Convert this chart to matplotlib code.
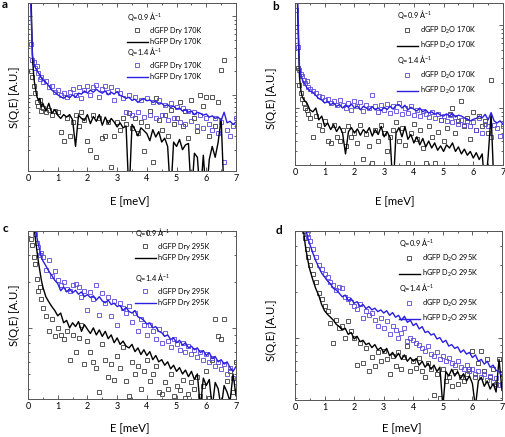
import numpy as np
import matplotlib
matplotlib.use("Agg")
import matplotlib.pyplot as plt
from matplotlib.lines import Line2D
from matplotlib.ticker import LogLocator, NullFormatter, MultipleLocator

plt.rcParams['font.family'] = ['Lato', 'DejaVu Sans']
plt.rcParams['mathtext.fontset'] = 'custom'
plt.rcParams['mathtext.rm'] = 'Lato'
plt.rcParams['mathtext.it'] = 'Lato:italic'

nan = np.nan

# energy transfer grid (meV)
E = [0.05, 0.1, 0.15, 0.2, 0.25, 0.3, 0.35, 0.4, 0.45, 0.5,
     0.6, 0.7, 0.8, 0.9, 1.0, 1.1, 1.2, 1.3, 1.4, 1.5,
     1.6, 1.7, 1.8, 1.9, 2.0, 2.1, 2.2, 2.3, 2.4, 2.5,
     2.6, 2.7, 2.8, 2.9, 3.0, 3.1, 3.2, 3.3, 3.4, 3.5,
     3.6, 3.7, 3.8, 3.9, 4.0, 4.1, 4.2, 4.3, 4.4, 4.5,
     4.6, 4.7, 4.8, 4.9, 5.0, 5.1, 5.2, 5.3, 5.4, 5.5,
     5.6, 5.7, 5.8, 5.9, 6.0, 6.1, 6.2, 6.3, 6.4, 6.5,
     6.6, 6.7, 6.8, 6.9, 7.0]

# ---------------- panel a : Dry 170K ----------------
a_hgfp_q14 = [60, 12, 3.2, 2.5, 2.2, 2.05, 1.9, 1.8, 1.65, 1.55,
              1.45, 1.3, 1.15, 1.08, 1.0, 0.95, 0.9, 0.97, 0.92, 1.0,
              0.93, 1.05, 1.02, 1.12, 1.05, 1.15, 1.08, 1.18, 1.1, 1.05,
              1.12, 1.0, 1.08, 1.02, 1.1, 0.98, 0.95, 0.9, 0.93, 0.85,
              0.88, 0.8, 0.86, 0.9, 0.84, 0.86, 0.8, 0.83, 0.76, 0.78,
              0.72, 0.75, 0.69, 0.72, 0.66, 0.68, 0.62, 0.65, 0.6, 0.62,
              0.56, 0.6, 0.58, 0.55, 0.57, 0.52, 0.54, 0.5, 0.52, 0.47,
              0.6, 0.44, 0.46, 0.42, 0.45]
a_hgfp_q09 = [60, 20, 3.0, 1.6, 1.2, 0.95, 0.85, 0.9, 0.7, 0.78,
              0.62, 0.78, 0.58, 0.65, 0.55, 0.5, 0.56, 0.52, 0.56, 0.48,
              0.22, 0.55, 0.5, 0.47, 0.56, 0.43, 0.53, 0.46, 0.56, 0.41,
              0.52, 0.43, 0.5, 0.45, 0.39, 0.44, 0.38, 0.4, 0.05, 0.42,
              0.36, 0.3, 0.38, 0.35, 0.32, 0.26, 0.36, 0.29, 0.34, 0.25,
              0.28, 0.22, 0.05, 0.25, 0.22, 0.27, 0.2, 0.23, 0.24, 0.05,
              0.18, 0.16, 0.05, 0.17, 0.05, 0.15, 0.22, 0.16, 0.25, 0.5,
              0.05, nan, nan, nan, nan]
a_dgfp_q09 = [nan, 2.0, 1.7, 1.3, 1.05, 0.8, 0.72, 0.86, 0.62, 0.68,
              0.6, 0.64, 0.55, 0.62, 0.6, 0.34, 0.26, 0.5, 0.3, 0.45,
              0.55, 0.4, 0.6, 0.48, 0.26, 0.2, 0.55, 0.16, 0.5, 0.28,
              0.3, 0.45, 0.12, 0.3, 0.45, 0.36, 0.5, 0.42, 0.58, 0.38,
              0.5, 0.33, 0.45, 0.19, 0.4, 0.62, 0.14, 0.9, 0.48, 0.36,
              0.55, 0.3, 0.65, 0.42, 0.5, 0.8, 0.4, 0.62, 0.28, 0.85,
              0.5, 0.35, 1.0, 0.72, 0.95, 0.3, 0.95, 0.4, 0.82, 2.1,
              2.8, nan, nan, nan, nan]
a_dgfp_q14 = [nan, 4.5, 2.8, 2.6, 2.2, 2.3, 1.9, 1.6, 1.7, 1.45,
              1.5, 1.25, 1.3, 1.1, 1.15, 1.0, 1.05, 0.95, 1.1, 1.2,
              1.0, 1.25, 0.9, 1.15, 1.3, 1.0, 1.25, 1.35, 0.95, 1.2,
              1.3, 1.1, 1.25, 0.85, 1.15, 1.05, 0.9, 0.6, 1.0, 0.55,
              0.95, 0.6, 0.85, 0.52, 0.9, 0.55, 0.8, 0.5, 0.85, 0.55,
              0.75, 0.48, 0.78, 0.5, 0.7, 0.45, 0.68, 0.42, 0.62, 0.46,
              0.6, 0.4, 0.55, 0.38, 0.5, 0.42, 0.36, 0.5, 0.33, 0.45,
              0.14, 0.36, 0.3, 0.4, 0.5]

# ---------------- panel b : D2O 170K ----------------
b_hgfp_q14 = [60, 14, 3.2, 2.5, 2.2, 2.0, 1.9, 1.75, 1.7, 1.6,
              1.55, 1.42, 1.3, 1.25, 1.15, 1.2, 1.1, 1.15, 1.05, 1.1,
              1.0, 1.08, 1.02, 1.12, 1.0, 1.06, 0.95, 1.05, 1.0, 0.96,
              1.04, 0.95, 1.0, 0.93, 1.02, 0.96, 1.05, 0.97, 1.08, 1.1,
              1.0, 1.08, 0.95, 1.02, 0.97, 0.92, 1.0, 0.9, 0.95, 0.87,
              0.9, 0.84, 0.87, 0.82, 0.8, 0.85, 0.8, 0.86, 0.78, 0.82,
              0.8, 0.76, 0.74, 0.7, 0.73, 0.75, 0.8, 0.76, 0.84, 0.72,
              0.88, 0.7, 0.66, 0.7, 0.64]
b_hgfp_q09 = [60, 10, 2.4, 1.6, 1.35, 1.25, 1.2, 1.15, 1.05, 0.95,
              0.9, 1.0, 0.72, 0.8, 0.6, 0.66, 0.55, 0.63, 0.52, 0.6,
              0.5, 0.28, 0.52, 0.58, 0.5, 0.56, 0.47, 0.55, 0.5, 0.58,
              0.46, 0.55, 0.48, 0.6, 0.45, 0.52, 0.44, 0.1, 0.5, 0.58,
              0.45, 0.6, 0.42, 0.48, 0.38, 0.45, 0.36, 0.43, 0.34, 0.4,
              0.33, 0.38, 0.31, 0.35, 0.3, 0.36, 0.33, 0.38, 0.3, 0.34,
              0.28, 0.32, 0.27, 0.3, 0.25, 0.29, 0.24, 0.28, 0.1, 0.26,
              0.85, 0.1, nan, nan, nan]
b_dgfp_q09 = [nan, 3.0, 1.9, 1.5, 1.3, 1.15, 1.0, 0.95, 0.85, 0.75,
              0.45, 0.8, 0.62, 0.55, 0.7, 0.4, 0.38, 0.62, 0.45, 0.4,
              0.55, 0.35, 0.6, 0.45, 0.5, 0.38, 0.62, 0.24, 0.48, 0.35,
              0.22, 0.55, 0.4, 0.62, 0.5, 0.3, 0.45, 0.55, 0.68, 0.4,
              0.58, 0.36, 0.22, 0.5, 0.65, 0.42, 0.55, 0.33, 0.22, 0.6,
              0.45, 0.22, 0.52, 0.72, 0.4, 0.58, 0.85, 1.0, 0.5, 0.7,
              1.2, 0.6, 0.75, 0.42, 0.9, 0.55, 0.8, 0.6, 0.7, 0.5,
              2.2, nan, nan, nan, nan]
b_dgfp_q14 = [15, 5.5, 2.9, 2.6, 2.4, 2.2, 2.0, 2.1, 1.8, 1.7,
              1.6, 1.5, 1.4, 1.35, 1.25, 1.3, 1.15, 1.2, 1.08, 1.25,
              1.1, 1.0, 1.15, 0.95, 1.2, 1.05, 1.18, 0.92, 1.1, 1.0,
              1.45, 1.05, 0.9, 1.08, 0.95, 1.12, 0.88, 1.05, 0.92, 1.15,
              0.85, 1.0, 0.88, 1.05, 0.82, 0.95, 0.8, 0.92, 0.85, 0.78,
              0.9, 0.75, 0.85, 0.72, 0.8, 0.7, 0.82, 0.68, 0.78, 0.65,
              0.72, 0.62, 0.7, 0.6, 0.68, 0.55, 0.75, 0.5, 0.65, 0.6,
              0.45, 0.62, 0.58, 0.46, 0.6]

# ---------------- panel c : Dry 295K ----------------
c_hgfp_q14 = [30, 20, 12, 7, 4.5, 3.9, 3.5, 3.2, 2.9, 2.75,
              2.55, 2.35, 2.2, 2.05, 1.95, 1.75, 1.85, 1.72, 1.8, 1.7,
              1.76, 1.66, 1.72, 1.6, 1.65, 1.58, 1.62, 1.52, 1.6, 1.5,
              1.46, 1.52, 1.42, 1.45, 1.38, 1.4, 1.3, 1.36, 1.28, 1.25,
              1.3, 1.18, 1.16, 1.12, 1.06, 1.08, 1.0, 1.02, 0.95, 0.93,
              0.88, 0.9, 0.84, 0.86, 0.8, 0.83, 0.77, 0.8, 0.74, 0.76,
              0.72, 0.74, 0.69, 0.71, 0.66, 0.69, 0.63, 0.65, 0.6, 0.62,
              0.58, 0.6, 0.55, 0.52, 0.56]
c_hgfp_q09 = [30, 15, 8, 4.6, 3.8, 3.2, 2.7, 2.35, 2.05, 1.85,
              1.6, 1.48, 1.38, 1.3, 1.2, 1.25, 1.08, 1.12, 1.0, 1.08,
              1.02, 1.1, 0.95, 1.05, 0.98, 0.92, 1.0, 0.9, 0.97, 0.88,
              0.95, 0.85, 0.9, 0.8, 0.86, 0.78, 0.82, 0.76, 0.74, 0.78,
              0.7, 0.74, 0.67, 0.72, 0.66, 0.7, 0.62, 0.66, 0.6, 0.62,
              0.57, 0.6, 0.54, 0.57, 0.52, 0.55, 0.5, 0.53, 0.48, 0.52,
              0.46, 0.5, 0.3, 0.47, 0.42, 0.46, 0.3, 0.44, 0.4, 0.3,
              0.42, 0.38, 0.33, 0.5, 0.36]
c_dgfp_q09 = [nan, 3.8, 3.5, 2.9, 2.6, 2.1, 1.75, 1.85, 1.55, 1.35,
              1.2, 0.95, 1.15, 0.88, 1.0, 0.9, 0.85, 0.95, 0.62, 0.9,
              0.7, 0.86, 1.05, 0.58, 0.82, 0.7, 0.6, 0.55, 0.38, 0.78,
              0.62, 0.48, 0.58, 0.46, 0.66, 0.55, 0.75, 0.45, 0.36, 0.6,
              0.5, 0.56, 0.4, 0.52, 0.62, 0.45, 0.5, 0.56, 0.38, 0.37,
              0.44, 0.4, 0.5, 0.36, 0.42, 0.39, 0.46, 0.35, 0.37, 0.44,
              0.4, 0.48, 0.36, 0.42, 0.52, 0.35, 0.62, 1.15, 0.88, 0.85,
              1.15, 0.45, 0.52, 0.38, 0.6]
c_dgfp_q14 = [nan, nan, 8, 5, 4.1, 3.6, 3.4, 3.0, 3.1, 2.9,
              2.4, 2.8, 2.2, 2.35, 2.05, 1.9, 2.0, 1.8, 1.75, 1.9,
              1.95, 1.85, 1.6, 1.75, 1.3, 1.72, 1.55, 1.9, 1.22, 1.68,
              1.45, 1.6, 1.2, 1.5, 1.05, 1.45, 1.35, 1.25, 1.4, 1.1,
              1.25, 0.95, 1.15, 1.05, 0.9, 1.05, 0.95, 0.85, 0.98, 0.8,
              0.92, 0.82, 0.75, 0.85, 0.78, 0.72, 0.8, 0.7, 0.76, 0.68,
              0.72, 0.65, 0.7, 0.62, 0.68, 0.6, 0.64, 0.56, 0.6, 0.54,
              0.58, 0.5, 0.55, 0.47, 0.44]

# ---------------- panel d : D2O 295K ----------------
d_hgfp_q14 = [40, 30, 20, 14, 10, 7.5, 5.5, 4.8, 4.4, 4.1,
              3.6, 3.2, 2.9, 2.65, 2.5, 2.35, 2.25, 2.1, 2.05, 1.95,
              1.85, 1.9, 1.75, 1.8, 1.68, 1.72, 1.6, 1.65, 1.55, 1.6,
              1.52, 1.56, 1.48, 1.52, 1.45, 1.5, 1.4, 1.46, 1.36, 1.4,
              1.3, 1.38, 1.26, 1.3, 1.2, 1.24, 1.14, 1.18, 1.08, 1.1,
              1.04, 1.06, 0.98, 1.0, 0.93, 0.96, 0.88, 0.9, 0.85, 0.87,
              0.8, 0.83, 0.78, 0.8, 0.74, 0.77, 0.7, 0.72, 0.67, 0.7,
              0.64, 0.66, 0.61, 0.6, 0.56]
d_hgfp_q09 = [40, 30, 20, 12, 7, 4.8, 4.0, 3.5, 3.1, 2.8,
              2.4, 2.1, 1.9, 1.65, 1.5, 1.42, 1.36, 1.3, 1.22, 1.18,
              1.12, 1.15, 1.05, 1.08, 0.98, 1.02, 0.94, 0.96, 0.9, 0.92,
              0.86, 0.9, 0.83, 0.86, 0.8, 0.85, 0.76, 0.8, 0.74, 0.79,
              0.72, 0.77, 0.7, 0.74, 0.7, 0.73, 0.66, 0.7, 0.64, 0.68,
              0.62, 0.66, 0.6, 0.64, 0.35, 0.6, 0.56, 0.62, 0.56, 0.6,
              0.54, 0.58, 0.52, 0.56, 0.5, 0.35, 0.52, 0.55, 0.48, 0.52,
              0.46, 0.5, 0.44, 0.72, 0.45]
d_dgfp_q09 = [nan, nan, nan, nan, nan, 5.0, 4.5, 3.8, 3.4, 3.0,
              2.6, 2.3, 1.95, 1.8, 1.6, 1.5, 1.25, 0.92, 1.3, 1.15,
              1.2, 1.0, 1.28, 1.1, 1.0, 0.66, 0.92, 0.68, 0.85, 0.6,
              0.75, 0.65, 0.8, 0.7, 0.82, 0.72, 0.58, 0.76, 0.65, 0.8,
              0.62, 0.75, 0.88, 0.6, 0.7, 0.63, 0.74, 0.6, 0.55, 0.68,
              0.62, 0.42, 0.58, 0.4, 0.62, 0.52, 0.55, 0.48, 0.6, 0.5,
              0.55, 0.52, 0.58, 0.62, 0.82, 0.55, 0.68, 0.82, 0.6, 0.72,
              0.55, 0.62, 0.5, 0.72, 0.58]
d_dgfp_q14 = [nan, nan, nan, nan, nan, nan, 5.2, 4.8, 4.6, 4.3,
              3.8, 3.4, 3.0, 2.8, 2.6, 2.5, 2.3, 2.2, 2.05, 2.15,
              2.1, 1.85, 1.8, 1.7, 1.62, 1.55, 1.65, 1.35, 1.5, 1.4,
              1.45, 1.3, 1.2, 1.35, 1.15, 1.28, 1.05, 1.2, 1.12, 1.0,
              1.08, 1.15, 0.95, 1.0, 0.96, 0.92, 0.9, 0.86, 0.82, 0.88,
              0.78, 0.76, 0.8, 0.72, 0.76, 0.7, 0.74, 0.68, 0.66, 0.7,
              0.64, 0.62, 0.66, 0.6, 0.62, 0.58, 0.6, 0.55, 0.58, 0.53,
              0.56, 0.51, 0.54, 0.49, 0.5]

panels = [
    dict(letter='a', hq14=a_hgfp_q14, hq09=a_hgfp_q09, dq09=a_dgfp_q09, dq14=a_dgfp_q14,
         cond='Dry 170K', ylim=(0.107, 14.8), box=(28, 3, 236, 171)),
    dict(letter='b', hq14=b_hgfp_q14, hq09=b_hgfp_q09, dq09=b_dgfp_q09, dq14=b_dgfp_q14,
         cond='D$_2$O 170K', ylim=(0.206, 18.4), box=(295, 3, 503, 165)),
    dict(letter='c', hq14=c_hgfp_q14, hq09=c_hgfp_q09, dq09=c_dgfp_q09, dq14=c_dgfp_q14,
         cond='Dry 295K', ylim=(0.343, 4.3), box=(28, 231, 236, 399)),
    dict(letter='d', hq14=d_hgfp_q14, hq09=d_hgfp_q09, dq09=d_dgfp_q09, dq14=d_dgfp_q14,
         cond='D$_2$O 295K', ylim=(0.39, 5.0), box=(295, 231, 502, 400)),
]

W, H = 506, 437
fig = plt.figure(figsize=(W / 100, H / 100), dpi=100)

BLUE_LINE = '#2b1fe0'
BLUE_SQ = '#5a48d8'
BLACK_SQ = '#3a3a3a'

# label positions (pixels)
xlab_pos = {'a': (130, 202), 'b': (395, 202), 'c': (130, 429), 'd': (402, 429)}
ylab_pos = {'a': (14, 97), 'b': (271, 98), 'c': (14, 315), 'd': (271, 330)}
letter_pos = {'a': (5, 4), 'b': (276, 7), 'c': (5, 228), 'd': (279, 231)}
leg1_pos = {'a': (127, 10), 'b': (397, 8), 'c': (135, 226), 'd': (399, 236)}
leg2_pos = {'a': (127, 45), 'b': (397, 53), 'c': (135, 271), 'd': (399, 281)}

for p in panels:
    x0, y0, x1, y1 = p['box']
    ax = fig.add_axes([x0 / W, 1 - y1 / H, (x1 - x0) / W, (y1 - y0) / H])
    sq09, = ax.plot(E, p['dq09'], linestyle='none', marker='s', markersize=3.0,
                    markerfacecolor='none', markeredgecolor=BLACK_SQ, markeredgewidth=0.6)
    sq14, = ax.plot(E, p['dq14'], linestyle='none', marker='s', markersize=3.0,
                    markerfacecolor='none', markeredgecolor=BLUE_SQ, markeredgewidth=0.6)
    ln09, = ax.plot(E, p['hq09'], color='black', linewidth=1.0)
    ln14, = ax.plot(E, p['hq14'], color=BLUE_LINE, linewidth=1.0)
    ax.set_yscale('log')
    ax.set_xlim(0, 7)
    ax.set_ylim(*p['ylim'])
    ax.xaxis.set_major_locator(MultipleLocator(1))
    ax.xaxis.set_minor_locator(MultipleLocator(0.5))
    ax.yaxis.set_major_locator(LogLocator(base=10))
    ax.yaxis.set_minor_locator(LogLocator(base=10, subs=np.arange(2, 10)))
    ax.yaxis.set_major_formatter(NullFormatter())
    ax.yaxis.set_minor_formatter(NullFormatter())
    ax.tick_params(which='both', direction='in', top=True, right=True,
                   labelsize=6.5, pad=2, color='#444444', width=0.6)
    ax.tick_params(which='major', length=3)
    ax.tick_params(which='minor', length=1.6)
    for s in ax.spines.values():
        s.set_linewidth(0.7)
        s.set_color('#555555')

    L = p['letter']
    fig.text(xlab_pos[L][0] / W, 1 - xlab_pos[L][1] / H, 'E [meV]', ha='center', va='center', fontsize=8.2)
    fig.text(ylab_pos[L][0] / W, 1 - ylab_pos[L][1] / H, 'S(Q,E) [A.U.]', ha='center', va='center',
             rotation=90, fontsize=8.2)
    fig.text(letter_pos[L][0] / W, 1 - letter_pos[L][1] / H, L, ha='center', va='center',
             fontsize=8.5, fontweight='bold')

    cond = p['cond']
    common = dict(loc='upper left', bbox_transform=fig.transFigure, frameon=False,
                  fontsize=5.3, title_fontsize=5.3, handlelength=2.8, handletextpad=0.3,
                  labelspacing=0.55, borderpad=0.0, borderaxespad=0.0, numpoints=1,
                  alignment='left')
    l1 = ax.legend([sq09, ln09], ['dGFP ' + cond, 'hGFP ' + cond], title='Q=0.9 Å$^{-1}$',
                   bbox_to_anchor=(leg1_pos[L][0] / W, 1 - leg1_pos[L][1] / H), **common)
    ax.add_artist(l1)
    ax.legend([sq14, ln14], ['dGFP ' + cond, 'hGFP ' + cond], title='Q=1.4 Å$^{-1}$',
              bbox_to_anchor=(leg2_pos[L][0] / W, 1 - leg2_pos[L][1] / H), **common)

fig.savefig('out.png', dpi=100)
